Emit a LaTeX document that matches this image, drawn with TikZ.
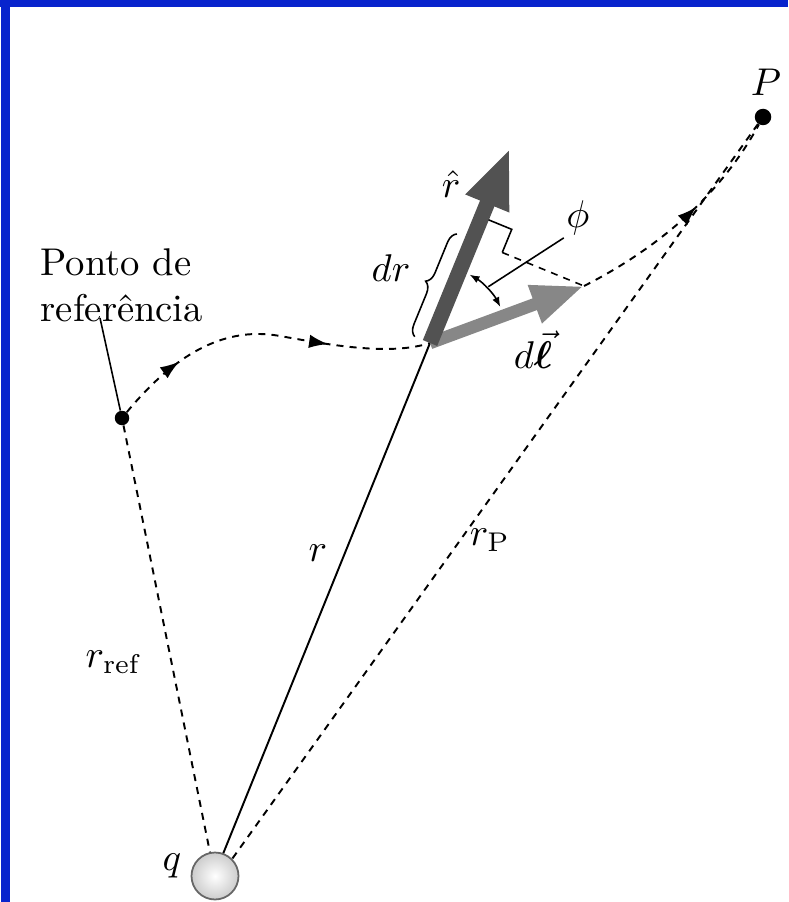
\documentclass[tikz,border=0pt]{standalone}
\usepackage{amsmath}
\usepackage{bm}
\usepackage{fontspec}
\usepackage{tikz}
\usetikzlibrary{arrows.meta, calc, decorations.pathreplacing, decorations.markings}
\definecolor{frameblue}{RGB}{8,36,205}
\definecolor{vecdark}{RGB}{82,82,82}
\definecolor{vecgray}{RGB}{135,135,135}
\tikzset{
  dotpt/.style = {circle, fill=black, inner sep=0pt, minimum size=0.29cm},
  charge/.style = {circle, draw=black!60, line width=1pt, shading=radial,
                   inner color=white, outer color=gray!40,
                   inner sep=0pt, minimum size=0.94cm},
  distline/.style = {line width=1.1pt, dash pattern=on 4pt off 3.5pt},
  pathline/.style = {distline, postaction={decorate}},
  lbl/.style = {scale=2.2, inner sep=0.5pt},
  rhatarrow/.style = {line width=0.31cm, draw=vecdark, fill=vecdark,
                      -{Triangle[length=1.2cm, width=0.85cm]}},
  dlarrow/.style = {line width=0.25cm, draw=vecgray, fill=vecgray,
                    -{Triangle[length=1.05cm, width=0.74cm]}},
  thinline/.style = {line width=0.9pt}
}
\newcommand{\patharrow}{\arrow{Latex[length=0.38cm, width=0.27cm]}}

\begin{document}
\begin{tikzpicture}[x=0.02cm, y=-0.02cm]
\useasboundingbox (0,0) rectangle (788,902);
\fill[frameblue] (0,0) rectangle (788,7);
\fill[frameblue] (1,0) rectangle (10,902);

% points
\node[dotpt] (ref) at (122,418) {};
\node[dotpt, minimum size=0.33cm] (P) at (763,117) {};
\node[charge] (q) at (215,876) {};
\coordinate (T)  at (430,343);
\coordinate (rh) at (510,148);
\coordinate (dl) at (584,286);
\coordinate (lead) at (100,318);
\coordinate (F)  at ($(T)!(dl)!(rh)$);
\coordinate (ra) at ($(F)!0.5cm!(rh)$);
\coordinate (A)  at ($(ra)!0.15cm!-90:(rh)$);
\coordinate (B)  at ($(ra)!0.65cm!-90:(rh)$);
\coordinate (C)  at ($(F)!0.65cm!-90:(rh)$);
\coordinate (bb) at ($(T)!0.33cm!90:(rh)$);
\coordinate (bt) at ($(F)!0.33cm!90:(rh)$);

% distances from q
\draw[distline] (ref) -- (q.102);
\draw[distline] (P) -- (q.45);
\draw[line width=1.1pt] (T) -- (q.70);

% path from the reference point to P
\draw[pathline, decoration={markings,
      mark=at position 0.22 with {\patharrow},
      mark=at position 0.69 with {\patharrow}}]
  (ref) .. controls (170,360) and (220,325) .. (280,336)
        .. controls (330,345) and (390,356) .. (T);
\draw[pathline, decoration={markings, mark=at position 0.57 with {\patharrow}}]
  (dl) .. controls (645,255) and (715,205) .. (P);

% projection of dl on r-hat
\draw[distline, line width=0.9pt] (C) -- (dl);
\draw[dlarrow] (T) -- (dl);
\draw[rhatarrow] (T) -- (rh);
\draw[thinline] (A) -- (B) -- (C);
\draw[thinline, decorate, decoration={brace, amplitude=0.22cm}] (bb) -- (bt);
\draw[thinline, {Latex[length=0.2cm]}-{Latex[length=0.2cm]}]
  ($(T)+(27:1.58cm)$) arc[start angle=27, end angle=60, radius=1.58cm];

% labels
\node[lbl] (rhl)   at (451,184) {$\hat{r}$};
\node[lbl] (dll)   at (533,350) {$d\vec{\bm\ell}$};
\node[lbl] (phil)  at (578,218) {$\phi$};
\node[lbl] (drl)   at (391,268) {$dr$};
\node[lbl] (rl)    at (318,553) {$r$};
\node[lbl] (rPl)   at (490,540) {$r_{\mathrm P}$};
\node[lbl] (rrefl) at (113,662) {$r_{\mathrm{ref}}$};
\node[lbl] (ql)    at (172,866) {$q$};
\node[lbl] (Pl)    at (766,82)  {$P$};
\node[lbl, anchor=west, align=left] (refl) at (38,285) {Ponto de\\referência};

\draw[thinline] (phil.south west) -- ($(T)+(44:1.62cm)$);
\draw[thinline] (lead) -- (ref);
\end{tikzpicture}
\end{document}
